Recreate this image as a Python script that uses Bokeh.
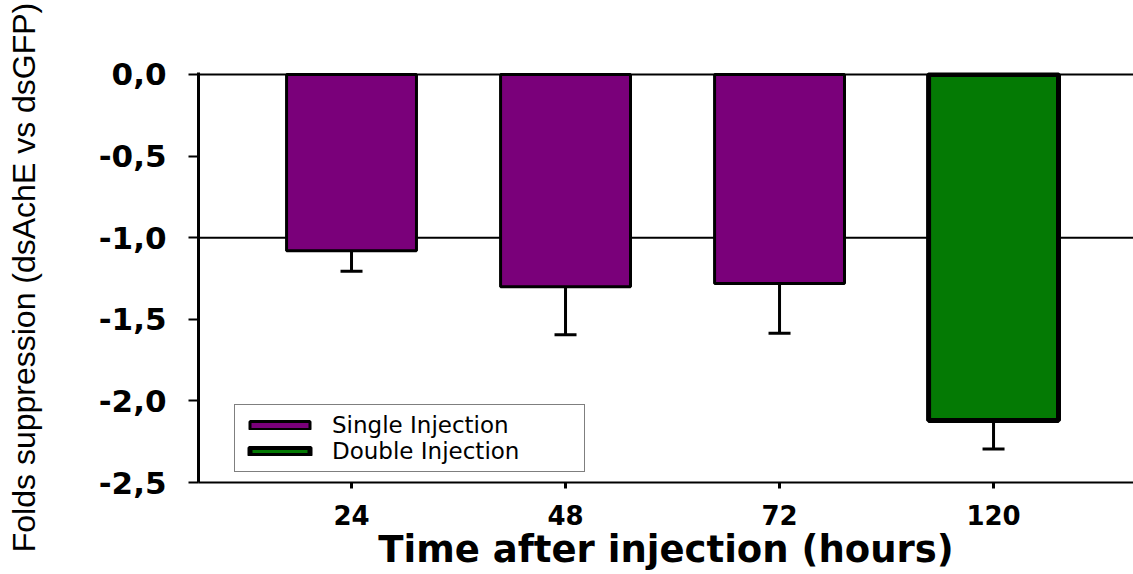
from bokeh.plotting import figure
from bokeh.models import (ColumnDataSource, FixedTicker, Span, Whisker, TeeHead,
                          Legend, LegendItem, Range1d)
from bokeh.embed import file_html
from bokeh.resources import INLINE

# ---- data ----
hours = ["24", "48", "72", "120"]
suppression = [-1.08, -1.30, -1.28, -2.12]
error = [0.125, 0.295, 0.305, 0.175]
injection = ["Single Injection", "Single Injection", "Single Injection", "Double Injection"]
y_ticks = [0.0, -0.5, -1.0, -1.5, -2.0, -2.5]
y_tick_labels = ["0,0", "-0,5", "-1,0", "-1,5", "-2,0", "-2,5"]
x_title = "Time after injection (hours)"
y_title = "Folds suppression (dsAchE vs dsGFP)"

x = list(range(len(hours)))
lower = [v - e for v, e in zip(suppression, error)]


def subset(name):
    idx = [i for i, g in enumerate(injection) if g == name]
    return ColumnDataSource(dict(
        x=[x[i] for i in idx],
        top=[0.0 for _ in idx],
        bottom=[suppression[i] for i in idx],
        lower=[lower[i] for i in idx],
    ))


p = figure(width=1133, height=574,
           x_range=Range1d(-0.715, 3.654), y_range=Range1d(-2.5, 0.012),
           output_backend="svg", toolbar_location=None,
           min_border_left=198, min_border_right=0,
           min_border_top=72, min_border_bottom=92)
p.outline_line_color = None
p.xgrid.visible = False
p.ygrid.visible = False
p.background_fill_color = "white"
p.border_fill_color = "white"

# reference lines at 0 and -1
for yv in (0.0, -1.0):
    p.add_layout(Span(location=yv, dimension="width", line_color="black",
                      line_width=2, level="underlay"))

src_single = subset("Single Injection")
src_double = subset("Double Injection")

r_single = p.vbar(x="x", top="top", bottom="bottom", width=0.607, source=src_single,
                  fill_color="#7a007a", line_color="black", line_width=3)
r_double = p.vbar(x="x", top="top", bottom="bottom", width=0.607, source=src_double,
                  fill_color="#047a04", line_color="black", line_width=5)

for src in (src_single, src_double):
    w = Whisker(base="x", upper="bottom", lower="lower", source=src,
                upper_head=None,
                lower_head=TeeHead(size=22, line_width=3, line_color="black"),
                line_width=3, line_color="black", level="glyph")
    p.add_layout(w)

# axes
p.xaxis.ticker = FixedTicker(ticks=x)
p.xaxis.major_label_overrides = {i: h for i, h in zip(x, hours)}
p.xaxis.axis_label = x_title
p.xaxis.axis_label_text_font = "DejaVu Sans"
p.xaxis.axis_label_text_font_style = "bold"
p.xaxis.axis_label_text_font_size = "37px"
p.xaxis.axis_label_text_color = "black"
p.xaxis.axis_label_standoff = 0
p.xaxis.major_label_text_font = "DejaVu Sans"
p.xaxis.major_label_text_font_style = "bold"
p.xaxis.major_label_text_font_size = "26px"
p.xaxis.major_label_text_color = "black"
p.xaxis.major_label_standoff = 16
p.xaxis.axis_line_width = 2
p.xaxis.major_tick_line_width = 3
p.xaxis.major_tick_out = 6
p.xaxis.major_tick_in = 0
p.xaxis.minor_tick_line_color = None

p.yaxis.ticker = FixedTicker(ticks=y_ticks)
p.yaxis.major_label_overrides = {t: l for t, l in zip(y_ticks, y_tick_labels)}
p.yaxis.axis_label = y_title
p.yaxis.axis_label_text_font = "Liberation Sans"
p.yaxis.axis_label_text_font_style = "normal"
p.yaxis.axis_label_text_font_size = "32px"
p.yaxis.axis_label_text_color = "black"
p.yaxis.axis_label_standoff = 54
p.yaxis.major_label_text_font = "DejaVu Sans"
p.yaxis.major_label_text_font_style = "bold"
p.yaxis.major_label_text_font_size = "31px"
p.yaxis.major_label_text_color = "black"
p.yaxis.major_label_standoff = 22
p.yaxis.axis_line_width = 3
p.yaxis.major_tick_line_width = 2
p.yaxis.major_tick_out = 10
p.yaxis.major_tick_in = 0
p.yaxis.minor_tick_line_color = None

legend = Legend(items=[LegendItem(label="Single Injection", renderers=[r_single]),
                       LegendItem(label="Double Injection", renderers=[r_double])],
                location=(36, 10), margin=0, padding=7, spacing=0,
                glyph_width=75, glyph_height=10, label_height=22, label_width=245,
                label_standoff=15,
                label_text_font="DejaVu Sans", label_text_font_size="23px",
                label_text_color="black",
                border_line_color="black", border_line_width=1,
                background_fill_color="white", background_fill_alpha=1.0)
p.add_layout(legend, "center")

open("out.html", "w").write(file_html(p, INLINE))
